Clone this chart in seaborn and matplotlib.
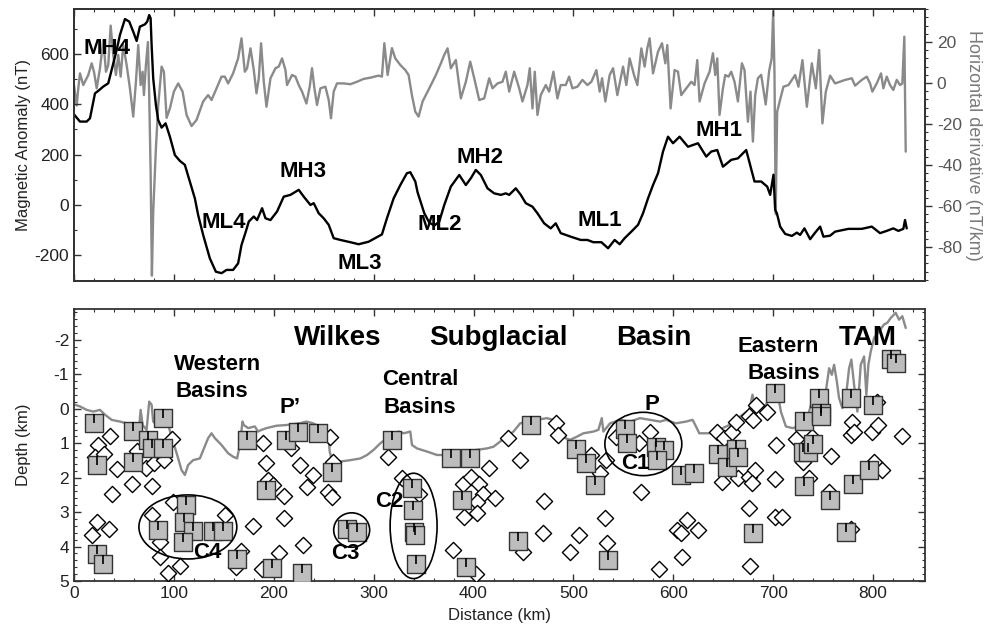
import matplotlib
matplotlib.use("Agg")
import matplotlib.pyplot as plt
import seaborn as sns
from matplotlib.patches import Ellipse
from matplotlib.path import Path
from matplotlib.ticker import MultipleLocator

# ---------------- data ----------------
# magnetic anomaly profile (km, nT)
mag_x = [0, 3, 6, 12.7, 16, 21, 24.3, 29.3, 34.3, 37.7, 42.7, 46, 51, 55.3, 59.3, 62.7, 66, 71, 73.3, 75.3,
         76.7, 77.7, 79.3, 82, 84.3, 87.7, 91.7, 96, 101, 106, 111, 116, 121, 124.3, 129.3, 136, 142, 147.7,
         152.7, 159.3, 164.3, 167.7, 172, 175, 180, 183.3, 188.3, 191.7, 196.7, 203.3, 210, 216.7, 225, 230,
         236.7, 240, 245, 250, 255, 260, 266.7, 276.7, 285, 295, 308.3, 313.3, 320, 326.7, 333.3, 336.7,
         341.7, 344, 350.7, 355.7, 360.7, 365.7, 370.7, 377.3, 385.7, 392.3, 397.3, 402.3, 407.3, 414, 420.7,
         427.3, 432.3, 435.7, 442.3, 447.3, 452.3, 459, 464, 470.7, 477.3, 482.3, 487.3, 497.3, 507.3, 514,
         520, 528, 534.7, 541.3, 546.3, 551.3, 558, 564.7, 569.7, 574.7, 579.7, 584.7, 589.7, 594.7, 599.7,
         606.3, 614.7, 624.7, 633, 638, 644, 649.7, 658, 664.7, 673, 681.3, 688, 694, 697, 700.3, 702, 703.7,
         707, 712, 718.7, 723.7, 727, 731.3, 737, 742, 747, 750.3, 757, 762, 775.3, 788.7, 798.7, 807, 813.7,
         820.3, 825.3, 830.3, 832, 833.7]
mag_nT = [360, 345, 331, 331, 344, 443, 453, 470, 483, 536, 615, 675, 738, 728, 688, 651, 708, 717, 728, 754,
          741, 635, 503, 397, 337, 307, 324, 271, 198, 175, 159, 93, 26, -40, -119, -212, -265, -271,
          -258, -258, -232, -159, -106, -66, -46, -60, -13, -53, -60, -26, 33, 40, 60, 33,
          0, 7, -33, -53, -79, -132, -139, -148, -156, -146, -117, -53, 26, 79, 126, 130,
          93, 50, -33, -70, -82, -66, 0, 73, 119, 79, 106, 139, 119, 66, 46,
          40, 46, 40, 66, 40, 7, -7, -33, -73, -93, -73, -112, -126, -139, -139,
          -148, -148, -172, -139, -156, -132, -106, -79, -33, 26, 79, 126, 212, 271, 245,
          271, 231, 245, 192, 212, 218, 152, 179, 185, 218, 93, 93, 73, 40, 120, -20, -33,
          -86, -115, -123, -110, -119, -93, -136, -110, -86, -126, -122, -106, -95, -95, -86, -112, -103,
          -93, -103, -95, -60, -93]

# horizontal derivative profile (km, nT/km)
der_x = [0, 2.7, 4.3, 6, 9.3, 14.3, 17.7, 20, 22.7, 26, 29.3, 32, 34.3, 36.7, 39.3, 42, 44.3, 46.7, 49.3,
         52.7, 56, 59.3, 62, 64.3, 66.7, 68.7, 70, 72, 74, 75.3, 76.7, 78, 79.3, 82, 84.3, 87.7, 90, 92.7,
         96, 100, 104.3, 108.7, 112.7, 117.7, 122.7, 129.3, 134.3, 137.7, 142.7, 147.7, 151, 154.3, 159.3,
         164.3, 167.7, 171, 173.3, 176.7, 180, 182.7, 185, 187.3, 190, 192.7, 196.7, 201.7, 205, 208.3,
         211.7, 213.3, 218.3, 221.7, 225, 228.3, 232.7, 236, 238.3, 240.7, 243.3, 246.7, 251.7, 255, 257.3,
         260, 263.3, 270, 276.7, 283.3, 290, 296.7, 305, 308.3, 310.7, 314, 318.3, 321.7, 326.7, 331.7, 335,
         338.3, 341.7, 345, 349, 355.7, 362.3, 367.3, 370.7, 374, 377.3, 382.3, 387.3, 392.3, 396.7, 400.7,
         405.7, 410.7, 415.7, 419, 424, 429, 432.3, 435.7, 440.7, 445.7, 449, 454, 456.3, 459, 461.3, 464,
         467.3, 472.3, 475.7, 480, 484, 487.3, 492.3, 495.7, 499, 504, 509, 514, 518, 523, 526.3, 528.7,
         532, 536.3, 539.7, 544, 549.7, 553, 556.3, 560.7, 564, 568, 571.3, 574, 576.3, 579.7, 584.7, 588.7,
         592, 594, 597.3, 601.3, 604.7, 608, 613, 618, 621.3, 624, 626.3, 631.3, 636.3, 639.7, 642, 644,
         646.3, 649.7, 652, 655.3, 658, 661.3, 664.7, 668.7, 671.3, 674.7, 677.3, 679.7, 682, 684.7, 688,
         692.5, 696, 698.5, 700, 701.3, 702.5, 704, 706, 710.3, 715.3, 722, 725.3, 729.3, 733.7, 738.7,
         742.7, 746, 749.3, 752.7, 757, 762, 772, 778.7, 782, 788.7, 793.7, 797, 799.3, 803.7, 808, 810.3,
         813.7, 817, 820.3, 823.7, 827, 829.3, 831.3, 832.7]
der_val = [-1, -11, -2.6, 4.7, -1, 3.9, 9.6, 5.5, -2.6, 7.2, 21, 5.5, 8.8, 28, 13.7, 3.9, 13.7, 3.1, 18.5,
           8.8, -2.6, -16.4, 0.6, 18.5, -1, 5.5, -5.9, 8.8, 20, -5.9, -43, -94, -63, -32, -11, 8, 5.5, -17,
           -12.4, -4.2, -0.2, -4.2, -15.6, -21, -18, -9, -5.9, -8.3, -2.6, 3.1, 3.1, -0.2, 4.7,
           12, 21.8, 5.5, 7.2, 16.9, 6.3, -5, 2.3, 19.4, 0.6, -11.6, 2.3, 7.2, 8, 12,
           6.3, -1, 3.9, 3.1, -1, -4.2, -10, -1.8, 7.2, -2.6, -10.7, -2.6, -1.8, -8.3, -17.2,
           -4.2, -0.2, -0.2, -0.6, 0.6, 2, 2.6, 3.6, 3.1, 19.4, 3.9, 17, 12, 8.8, 6.3, 3.9,
           -5.9, -14, -16.4, -9, -2.6, 3.9, 9.6, 13.7, 16.9, 7.2, 11.2, -7.5, 0.6, 10.4, 2.3,
           -8.3, -7.5, 2.3, -2.6, -0.2, 0.6, 5.5, -4.2, 5.5, -2.6, -9, -1, 7.2, -12.4, 5.5, -15.6,
           -5.9, -1, -4.2, 5.5, -7.5, -1, -1, 3.1, -2.6, -1.8, 1.5, -1, 0.6, 6.3, -4.2, 2.3,
           -9, 3.9, 7.2, -5.9, 8, -1, 12, 3.9, -1, 16.9, 8, 17, 21.8, 4.7, 15.3, 19.4,
           9.6, 18.5, -12.4, 6.3, 5.5, -5.9, -2.6, 0.6, -1, 11.2, -9, -0.2, 5.5, 14.5, 3.9, 12,
           -15.6, -2.6, 3.9, 3.1, 5.5, 0.6, -9, 9.6, 6.3, -18.9, -4.2, -28.6, -5.9, 2.3, 4,
           -10.5, 6, 12, 35, 5, -64, -14, -10, -1.8, -1, 3.9, -1.8, 11.2, -11.6, 9.6,
           -2.6, 16.1, -19.7, -4.2, 3.6, -0.2, 1.5, 2.3, -1.3, 1.5, 3.1, -0.2, -4.2, -0.2, 4.7, -2.6,
           3.1, -1, -3.4, 1.5, -1, -0.2, 22.6, -33.5]

# bed topography (km, depth km)
bed_x = [1, 6, 12.7, 19.3, 26, 31, 37.7, 46, 52.7, 59.3, 65.3, 66.7, 68.7, 72.7, 75.3, 77.7, 79.3, 82.7, 86,
         91, 94.3, 99.3, 104.3, 107.7, 111, 114.3, 119.3, 126, 134.3, 137.7, 141, 147.7, 154.3, 159.3,
         163.3, 166, 168.7, 170, 174.3, 181, 184.3, 187.7, 192.7, 202.7, 212.7, 226, 232.7, 239.3, 249.3,
         254.3, 256, 257.7, 266.7, 276.7, 286.7, 293.4, 300, 306.7, 313.4, 320, 325, 330, 336.7, 338.4,
         343.4, 353.4, 363.4, 373.4, 383.4, 393.4, 403.4, 413.4, 420, 426.7, 433.4, 440, 446.7, 453.4,
         463.4, 473.4, 480, 486.7, 491.7, 496.7, 503.4, 510, 520, 525, 528.4, 530, 536.7, 546.7, 556.7,
         566.7, 576.7, 586.7, 592.7, 602.7, 612.7, 619.3, 622.7, 626, 636, 642.7, 649.3, 656, 662.7,
         669.3, 676, 679.3, 682, 686, 691, 696, 700, 704.3, 707.7, 712.7, 719.3, 726, 732.7, 736, 739.3,
         742.7, 746, 749.3, 752.7, 756, 758.7, 761, 763.7, 766, 769.3, 772.7, 776, 778.3, 781, 784.3,
         787.7, 791, 793.3, 795.3, 797.7, 801, 806, 811, 814.3, 817.7, 822.7, 826, 829.3, 832.7]
bed_depth = [-0.12, -0.07, 0.03, 0.08, 0.03, 0.17, 0.32, 0.37, 0.42, 0.47, 0.51, 0.03, 0.47, 0.61, -0.21,
             -0.12, 0.37, 0.47, 0.47, 0.27, 0.47, 0.95, 1.44, 1.78, 1.92, 1.63, 1.49, 1.44, 0.85, 0.71,
             0.85, 1.05, 1.29, 1.39, 1.44, 1.05, 0.37, 0.47, 0.56, 0.51, 0.66, 0.61, 0.56, 0.49, 0.47,
             0.42, 0.37, 0.42, 0.56, 0.66, 1.24, 1.44, 1.53, 1.49, 1.44, 1.34, 1.19, 1.0, 0.85, 0.76,
             0.66, 0.71, 0.66, 1.05, 1.15, 1.24, 1.34, 1.34, 1.29, 1.24, 1.19, 1.15, 1.1, 0.95, 0.81,
             0.66, 0.42, 0.37, 0.32, 0.27, 0.32, 0.56, 0.85, 0.9, 0.81, 0.71, 0.66, 0.61, 0.27, 0.66,
             0.42, 0.32, 0.37, 0.27, 0.32, 0.37, 0.32, 0.42, 0.37, 0.32, 0.51, 0.71, 0.71, 0.71, 0.56,
             0.47, 0.32, 0.17, 0.03, -0.41, -0.02, -0.07, -0.02, -0.31, -0.6, -0.5, 0.08, 0.51, 0.56,
             0.51, 0.32, 0.08, -0.26, -0.41, -0.21, -0.26, -0.5, -1.18, -0.99, -1.28, -0.8, -0.31, -0.02,
             -0.31, -1.18, -1.43, -0.7, 0.08, -1.28, -1.52, -0.41, -1.28, -1.67, -2.06, -2.25, -2.45,
             -2.5, -2.64, -2.79, -2.59, -2.69, -2.35]

# square solutions (km, depth km)
sq_x = [20, 23, 59, 59, 74, 78, 89, 89, 23, 29, 84, 112, 110, 119, 109, 139, 149, 163, 173, 192, 198, 212,
        224, 228, 244, 258, 318, 338, 339, 340, 341, 342, 273, 283, 377, 396, 388, 392, 445, 458, 503, 513,
        522, 535, 552, 554, 583, 591, 584, 608, 621, 645, 654, 663, 665, 702, 680, 731, 730, 735, 740, 731,
        746, 748, 748, 757, 778, 780, 773, 800, 796, 818, 823]
sq_depth = [0.42, 1.63, 0.63, 1.55, 0.9, 1.15, 0.27, 1.15, 4.22, 4.5, 3.52, 2.8, 3.3, 3.54, 3.88, 3.54, 3.54,
            4.37, 0.9, 2.35, 4.62, 0.9, 0.66, 4.76, 0.71, 1.83, 0.9, 2.31, 2.94, 3.57, 3.65, 4.5, 3.5, 3.57,
            1.42, 1.42, 2.65, 4.59, 3.84, 0.47, 1.17, 1.58, 2.21, 4.4, 0.58, 1.0, 1.1, 1.19, 1.49, 1.92,
            1.87, 1.32, 1.68, 1.17, 1.39, -0.46, 3.62, 0.35, 1.26, 1.26, 1.03, 2.23, -0.31, 0.13, 0.22,
            2.65, -0.31, 2.17, 3.57, -0.12, 1.78, -1.46, -1.33]

# diamond solutions (km, depth km)
dia_x = [24, 21, 30, 36, 43, 38, 23, 18, 35, 58, 63, 72, 80, 78, 98, 90, 78, 99, 86, 86, 94, 106, 151, 167,
         162, 179, 189, 192, 194, 199, 210, 210, 205, 188, 217, 226, 239, 233, 229, 256, 254, 258, 259,
         314, 328, 345, 379, 402, 390, 389, 397, 405, 409, 403, 403, 415, 421, 435, 447, 450, 471, 470,
         483, 485, 497, 506, 518, 527, 533, 532, 534, 543, 577, 568, 586, 566,
         604, 608, 614, 625, 609, 644, 651, 659, 663, 649, 665, 676, 680, 683, 676, 682, 679, 676, 677,
         694, 703, 702, 702, 709, 723, 730, 736, 739, 758, 756, 779, 778, 781, 778, 799, 805, 801, 809,
         804, 829]
dia_depth = [1.05, 1.41, 1.32, 0.79, 1.76, 2.48, 3.3, 3.65, 3.5, 2.19, 1.21, 1.73, 1.58, 2.24, 0.87, 1.49,
             3.09, 2.7, 3.86, 4.3, 4.76, 4.57, 3.07, 4.13, 4.6, 3.4, 1.0, 1.58, 2.07, 2.2, 2.53, 3.16, 4.2,
             4.64, 1.13, 1.63, 1.92, 2.26, 3.96, 0.81, 2.41, 2.55, 1.53,
             1.39, 2.0, 2.46, 4.1, 4.79, 3.14, 2.19, 1.97, 2.19, 2.46, 2.72, 3.02, 1.71, 2.58, 0.85, 1.49,
             4.16, 2.68, 3.62, 0.42, 0.76, 4.16, 3.65, 1.34, 1.87, 1.49, 3.18, 3.91, 0.81, 0.66, 2.41,
             4.64, 1.0,
             3.53, 3.62, 3.24, 3.53, 4.3, 0.66, 0.85, 0.66, 0.37, 2.12, 2.0, 0.22, 0.32, -0.12, 1.97,
             1.78, 2.14, 2.89, 4.57, 0.08, 1.05, 2.05, 3.14, 3.14, 0.88, 1.53, 2.0, 0.81, 1.37, 2.41,
             0.37, 0.76, 0.66, 3.48, 0.66, 0.47, 1.53, 1.78, -0.2, 0.79]

# anomaly labels (name, km, nT)
mag_labels = ["MH4", "ML4", "MH3", "ML3", "ML2", "MH2", "ML1", "MH1"]
mag_label_x = [33, 150, 229, 286, 366, 406, 526, 646]
mag_label_y = [620, -70, 132, -231, -76, 190, -63, 294]

# region labels (text, km, depth km, size)
reg_labels = ["Wilkes", "Subglacial", "Basin", "TAM", "Western", "Basins", "Central", "Basins",
              "Eastern", "Basins", "P\u2019", "P", "C4", "C3", "C2", "C1"]
reg_x = [264, 425, 580, 795, 144, 138, 347, 346, 705, 711, 216, 579, 133, 272, 316, 562]
reg_y = [-2.06, -2.06, -2.06, -2.07, -1.28, -0.50, -0.84, -0.04, -1.82, -1.04, -0.04, -0.12, 4.16, 4.2, 2.7, 1.58]
reg_size = [20, 20, 20, 20, 16, 16, 16, 16, 16, 16, 16, 16, 16, 16, 16, 16]

# clusters (centre km, centre depth, width km, height km)
clu_cx = [114, 278, 340, 570]
clu_cy = [3.43, 3.52, 3.4, 1.02]
clu_w = [98, 36, 47, 77]
clu_h = [1.86, 1.0, 3.06, 1.84]

# ---------------- style ----------------
sns.set_theme(style="ticks")
plt.rcParams['font.family'] = ['Liberation Sans', 'DejaVu Sans']
plt.rcParams['axes.unicode_minus'] = False

W, H = 984, 626
fig = plt.figure(figsize=(W / 100, H / 100), dpi=100)
ax1 = fig.add_axes([74 / W, 1 - 281 / H, 851 / W, 272 / H])
ax2 = ax1.twinx()
ax3 = fig.add_axes([74 / W, 1 - 581 / H, 851 / W, 272 / H])

GRAY = "#8a8a8a"
SPINE = "#333333"
TICK = 12.5

# ---------------- top panel ----------------
sns.lineplot(x=der_x, y=der_val, ax=ax2, color=GRAY, lw=1.7, sort=False, estimator=None)
sns.lineplot(x=mag_x, y=mag_nT, ax=ax1, color="black", lw=1.7, sort=False, estimator=None)
ax1.set_zorder(ax2.get_zorder() + 1)
ax1.patch.set_visible(False)

ax1.set_xlim(0, 852)
ax1.set_ylim(-302, 778)
ax2.set_ylim(-96.6, 36.1)
ax1.set_yticks([-200, 0, 200, 400, 600])
ax2.set_yticks([-80, -60, -40, -20, 0, 20])
ax1.xaxis.set_major_locator(MultipleLocator(100))
ax1.xaxis.set_minor_locator(MultipleLocator(20))
ax1.yaxis.set_minor_locator(MultipleLocator(100))
ax2.yaxis.set_minor_locator(MultipleLocator(4))
ax1.tick_params(axis="x", which="both", direction="in", top=True, bottom=True, labelbottom=False,
                color=SPINE)
ax1.tick_params(axis="y", which="both", direction="in", left=True, right=False, labelsize=TICK,
                color=SPINE, labelcolor="#222222")
ax2.tick_params(axis="y", which="both", direction="out", right=True, labelsize=TICK, color=SPINE,
                labelcolor="#555555")
for a in (ax1, ax3):
    a.tick_params(which="major", length=5, width=1)
    a.tick_params(which="minor", length=2.5, width=0.8)
ax2.tick_params(which="major", length=5, width=1)
ax2.tick_params(which="minor", length=2.5, width=0.8)

ax1.set_xlabel("")
ax1.set_ylabel("Magnetic Anomaly (nT)", fontsize=12, color="#222222")
ax1.yaxis.set_label_coords(-0.05, 0.5)
ax2.set_ylabel("Horizontal derivative (nT/km)", fontsize=13, color="#7a7a7a", rotation=270,
               va="center", ha="center")
ax2.yaxis.set_label_coords(1.057, 0.5)

for t, x, y in zip(mag_labels, mag_label_x, mag_label_y):
    ax1.text(x, y, t, fontsize=16, fontweight="bold", ha="center", va="center", color="black")

# ---------------- bottom panel ----------------
sns.lineplot(x=bed_x, y=bed_depth, ax=ax3, color=GRAY, lw=1.7, sort=False, estimator=None, zorder=2)
sns.scatterplot(x=dia_x, y=dia_depth, ax=ax3, marker="D", s=68, facecolor="white", edgecolor="black",
                linewidth=1.0, zorder=3)
sns.scatterplot(x=sq_x, y=sq_depth, ax=ax3, marker="s", s=150, facecolor="#bdbdbd", edgecolor="#333333",
                linewidth=1.0, zorder=4)
sns.scatterplot(x=sq_x, y=sq_depth, ax=ax3, marker=Path([(0, 0), (0, 1)]), s=150, color="black",
                edgecolor="black", linewidth=1.2, zorder=5)

for cx, cy, w, h in zip(clu_cx, clu_cy, clu_w, clu_h):
    ax3.add_patch(Ellipse((cx, cy), w, h, fill=False, edgecolor="black", lw=1.2, zorder=6))

for t, x, y, s in zip(reg_labels, reg_x, reg_y, reg_size):
    ax3.text(x, y, t, fontsize=s, fontweight="bold", ha="center", va="center", color="black", zorder=7)

ax3.set_xlim(0, 852)
ax3.set_ylim(5, -2.9)
ax3.set_yticks([-2, -1, 0, 1, 2, 3, 4, 5])
ax3.xaxis.set_major_locator(MultipleLocator(100))
ax3.xaxis.set_minor_locator(MultipleLocator(20))
ax3.yaxis.set_minor_locator(MultipleLocator(0.2))
ax3.tick_params(which="both", direction="in", top=True, right=True, labelsize=TICK, color=SPINE,
                labelcolor="#222222")
ax3.set_xlabel("Distance (km)", fontsize=12, color="#222222")
ax3.xaxis.set_label_coords(0.5, -0.1)
ax3.set_ylabel("Depth (km)", fontsize=12, color="#222222")
ax3.yaxis.set_label_coords(-0.05, 0.5)

for a in (ax1, ax2, ax3):
    for sp in a.spines.values():
        sp.set_color(SPINE)
        sp.set_linewidth(1.3)
        sp.set_visible(True)

fig.savefig("out.png", dpi=100)
